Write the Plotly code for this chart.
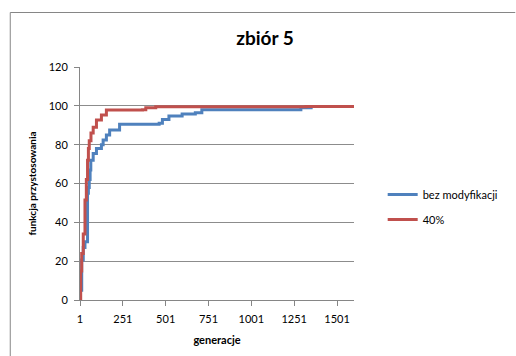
import plotly.graph_objects as go

# Step-change points (generation, fitness)
gen_base = [1, 2, 11, 20, 30, 39, 45, 50, 55, 60, 64, 78, 97, 126, 136, 155, 174, 232, 463, 482, 520, 597, 674, 712, 1230, 1290, 1350, 1600]
val_base = [0, 5, 20.6, 27, 30, 30, 55, 58, 62, 67, 72, 75.5, 78, 80, 82.4, 85, 87.5, 90.5, 91, 93, 94.8, 95.8, 96.5, 98, 98, 99, 99.6, 99.8]

gen_40 = [1, 5, 11, 20, 30, 38, 45, 50, 55, 65, 78, 97, 126, 155, 366, 385, 443, 1320, 1600]
val_40 = [0, 15, 24, 34, 51.5, 62, 72, 78, 82, 86, 89, 92.7, 95.3, 97.8, 98, 99, 99.5, 99.6, 100]

series_names = ["bez modyfikacji", "40%"]
x_ticks = [1, 251, 501, 751, 1001, 1251, 1501]
y_ticks = [0, 20, 40, 60, 80, 100, 120]

FONT = "Lato, 'Open Sans', sans-serif"
colors = ["#4F81BD", "#C0504D"]

fig = go.Figure()
fig.add_trace(go.Scatter(x=gen_base, y=val_base, mode="lines", name=series_names[0],
                         line=dict(color=colors[0], width=3, shape="hv"), legendgroup="a"))
fig.add_trace(go.Scatter(x=gen_40, y=val_40, mode="lines", name=series_names[1],
                         line=dict(color=colors[1], width=3, shape="hv"), legendgroup="b"))

L, R, T, B = 80, 516 - 357, 67, 356 - 300
pw, ph = 516 - L - R, 356 - T - B

fig.update_layout(
    width=516, height=356,
    margin=dict(l=L, r=R, t=T, b=B),
    paper_bgcolor="white", plot_bgcolor="white",
    font=dict(family=FONT, size=11, color="#333333"),
    title=dict(text="<b>zbiór 5</b>", x=(265) / 516, xanchor="center",
               y=1 - 38 / 356, yanchor="middle",
               font=dict(family=FONT, size=19, color="#000000")),
    xaxis=dict(range=[1, 1600], tickvals=x_ticks, ticktext=[str(v) for v in x_ticks],
               showgrid=False, zeroline=False, showline=True, linecolor="#868686", linewidth=1,
               ticks="outside", ticklen=5, tickcolor="#868686", ticklabelstandoff=4,
               tickfont=dict(family=FONT, size=11, color="#000000"),
               title=dict(text="<b>generacje</b>", standoff=12,
                          font=dict(family=FONT, size=11, color="#000000"))),
    yaxis=dict(range=[0, 120], tickvals=y_ticks,
               showgrid=True, gridcolor="#8C8C8C", gridwidth=1, zeroline=False,
               showline=True, linecolor="#868686", linewidth=1,
               ticks="outside", ticklen=5, tickcolor="#868686", ticklabelstandoff=4,
               tickfont=dict(family=FONT, size=11, color="#000000"),
               title=dict(text="<b>funkcja przystosowania</b>", standoff=10,
                          font=dict(family=FONT, size=10, color="#000000"))),
    legend=dict(x=(386 - L) / pw, xanchor="left", y=(300 - 180) / ph, yanchor="top",
                bgcolor="rgba(0,0,0,0)", tracegroupgap=6,
                font=dict(family=FONT, size=11, color="#000000")),
    showlegend=True,
    shapes=[
        dict(type="line", xref="paper", yref="paper",
             x0=(9.5 - L) / pw, x1=(520 - L) / pw, y0=(300 - 12.5) / ph, y1=(300 - 12.5) / ph,
             line=dict(color="#868686", width=1)),
        dict(type="line", xref="paper", yref="paper",
             x0=(9.5 - L) / pw, x1=(9.5 - L) / pw, y0=(300 - 12.5) / ph, y1=(300 - 360) / ph,
             line=dict(color="#868686", width=1)),
    ],
)

fig.write_html("out.html")
